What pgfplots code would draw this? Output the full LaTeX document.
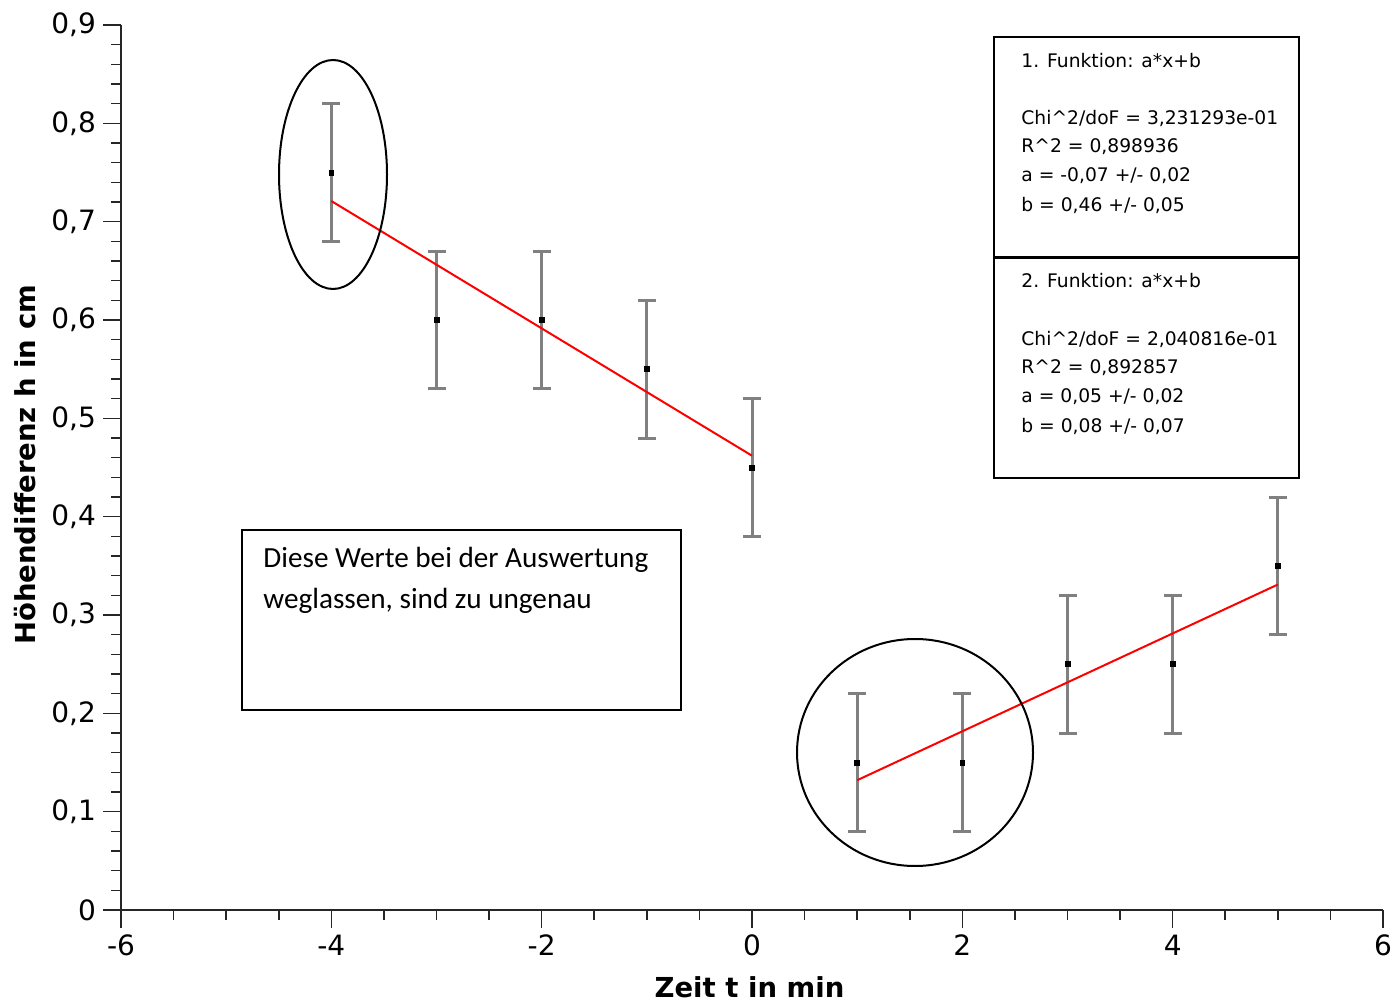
\documentclass[border=0pt]{standalone}
\usepackage{fontspec}
\setmainfont{DejaVu Sans}
\newfontfamily\calfont{Carlito}
\usepackage{pgfplots}
\pgfplotsset{compat=1.18}
\begin{document}
\begin{tikzpicture}
\path[use as bounding box] (0pt,0pt) rectangle (697.5pt,500.5pt);
\begin{axis}[
  at={(60.5pt,45.5pt)}, anchor=south west,
  scale only axis, width=631pt, height=442.5pt,
  xmin=-6, xmax=6, ymin=0, ymax=0.9,
  axis x line=bottom, axis y line=left,
  axis line style={-, line width=1pt, black!85},
  tick align=outside,
  major tick length=9pt, minor tick length=5pt,
  every tick/.style={black!85, line width=0.8pt},
  xtick={-6,-4,...,6}, minor x tick num=3,
  ytick={0,0.1,...,0.9}, minor y tick num=4,
  /pgf/number format/.cd, fixed, precision=1, use comma, assume math mode=true,
  /pgfplots/.cd,
  tick label style={font=\fontsize{14}{16}\selectfont},
  xlabel={Zeit t in min}, ylabel={Höhendifferenz h in cm},
  label style={font=\fontsize{13.75}{16}\selectfont\bfseries},
  xlabel style={at={(axis description cs:0.498,-0.087)}, anchor=center},
  ylabel style={at={(axis description cs:-0.076,0.503)}, anchor=center},
  clip=false,
]
\addplot[only marks, mark=square*, mark size=1.2pt, black,
  error bars/.cd, y dir=both, y explicit,
  error bar style={gray, line width=1.5pt},
  error mark options={rotate=90, gray, line width=1.5pt, mark size=4.5pt}]
 coordinates {
  (-4,0.75) +- (0,0.07)
  (-3,0.60) +- (0,0.07)
  (-2,0.60) +- (0,0.07)
  (-1,0.55) +- (0,0.07)
  (0,0.45) +- (0,0.07)
  (1,0.15) +- (0,0.07)
  (2,0.15) +- (0,0.07)
  (3,0.25) +- (0,0.07)
  (4,0.25) +- (0,0.07)
  (5,0.35) +- (0,0.07)
 };
\addplot[red, line width=1pt] coordinates {(-4,0.721) (0,0.462)};
\addplot[red, line width=1pt] coordinates {(1,0.132) (5,0.331)};
\end{axis}
% annotations (pixel coordinates from top-left)
\begin{scope}[shift={(0pt,500.5pt)}, x=0.5pt, y=-0.5pt]
\draw[black, line width=1pt] (333,174.5) ellipse [x radius=54, y radius=114.5];
\draw[black, line width=1pt] (915,752.5) ellipse [x radius=118, y radius=113.5];
\draw[black, line width=0.8pt] (242,530) rectangle (681,710);
\node[anchor=west, inner sep=0, font=\calfont\fontsize{14.6}{17}\selectfont] at (263,560) {Diese Werte bei der Auswertung};
\node[anchor=west, inner sep=0, font=\calfont\fontsize{14.6}{17}\selectfont] at (263,601) {weglassen, sind zu ungenau};
\draw[black, line width=0.8pt] (994,37) rectangle (1299,478);
\draw[black, line width=1.5pt] (994,258) -- (1299,258);
\begin{scope}[every node/.style={anchor=west, inner sep=0, font=\fontsize{9.35}{11}\selectfont}]
\node at (1021,61) {1. Funktion: a*x+b};
\node at (1021,118) {Chi\string^2/doF = 3,231293e-01};
\node at (1021,147) {R\string^2 = 0,898936};
\node at (1021,176) {a = -0,07 +/- 0,02};
\node at (1021,205) {b = 0,46 +/- 0,05};
\node at (1021,281) {2. Funktion: a*x+b};
\node at (1021,339) {Chi\string^2/doF = 2,040816e-01};
\node at (1021,368) {R\string^2 = 0,892857};
\node at (1021,397) {a = 0,05 +/- 0,02};
\node at (1021,426) {b = 0,08 +/- 0,07};
\end{scope}
\end{scope}
\end{tikzpicture}
\end{document}
